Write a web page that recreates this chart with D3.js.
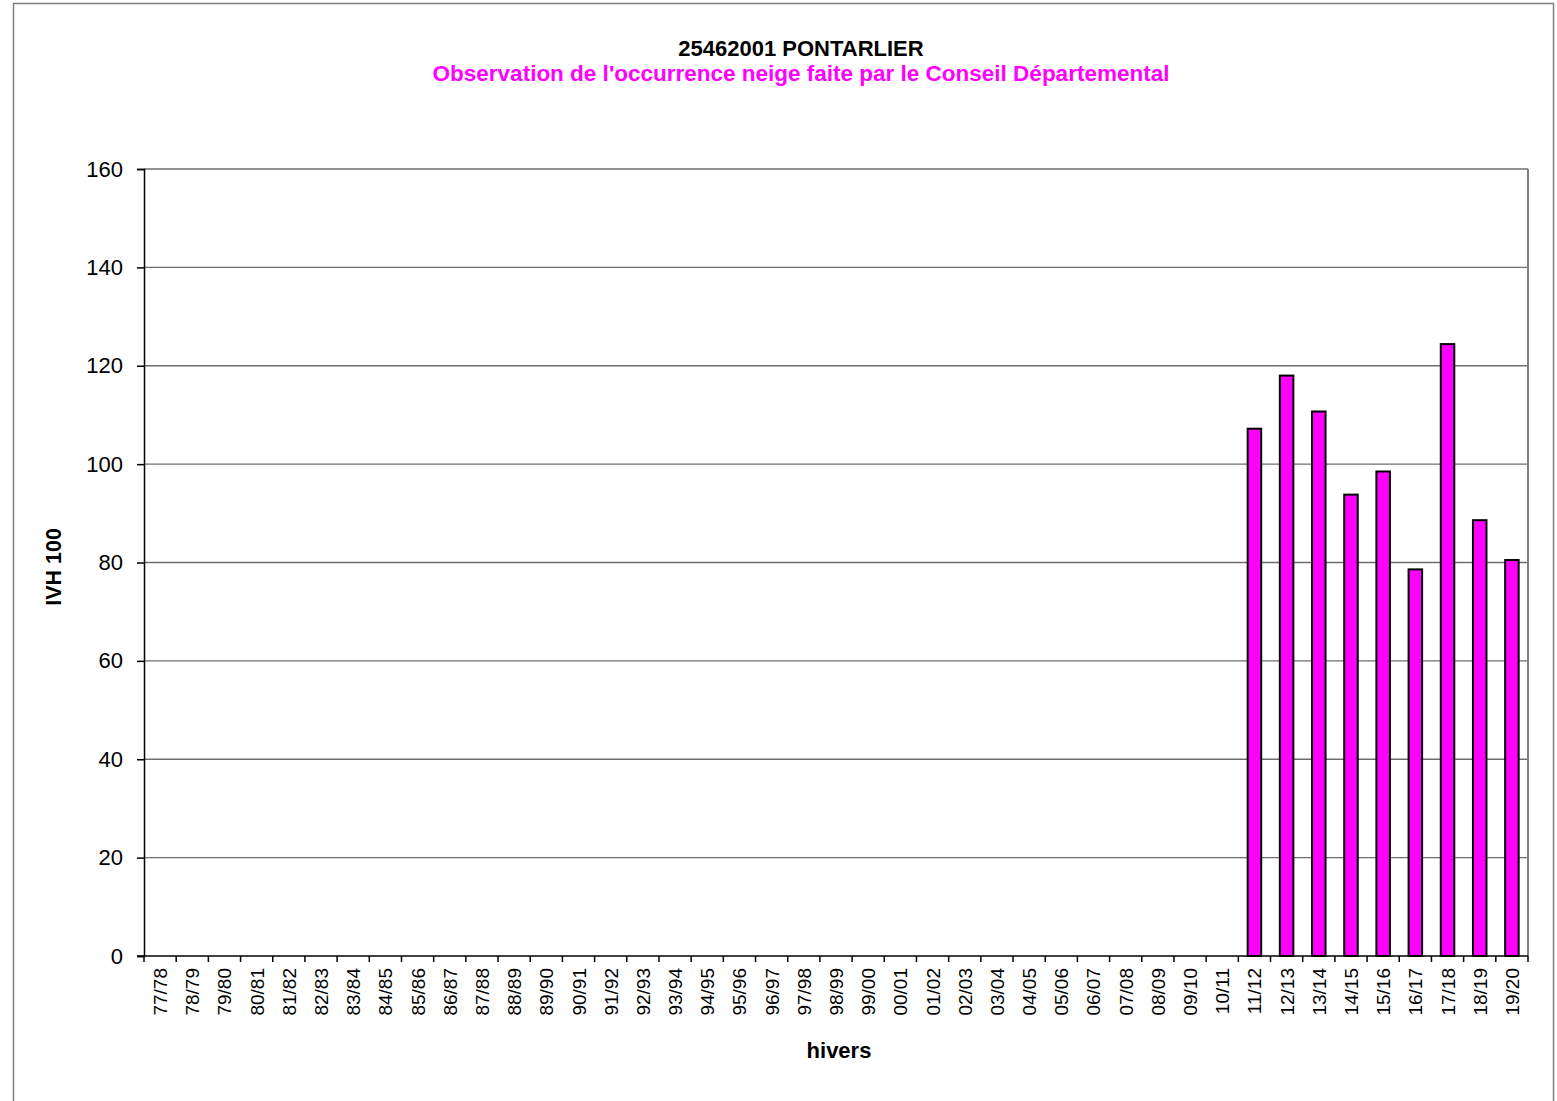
<!DOCTYPE html>
<html>
<head>
<meta charset="utf-8">
<script src="https://cdn.jsdelivr.net/npm/d3@7"></script>
<style>
  body { margin: 0; background: #fff; }
  svg text { font-family: "Liberation Sans", Arial, sans-serif; }
</style>
</head>
<body>
<div id="chart"></div>
<script>
// Winters (categories)
const winters = ["77/78","78/79","79/80","80/81","81/82","82/83","83/84","84/85","85/86","86/87",
  "87/88","88/89","89/90","90/91","91/92","92/93","93/94","94/95","95/96","96/97","97/98","98/99",
  "99/00","00/01","01/02","02/03","03/04","04/05","05/06","06/07","07/08","08/09","09/10","10/11",
  "11/12","12/13","13/14","14/15","15/16","16/17","17/18","18/19","19/20"];

// IVH 100 values (only observed winters)
const observedWinters = ["11/12","12/13","13/14","14/15","15/16","16/17","17/18","18/19","19/20"];
const ivhValues = [107.2, 118.0, 110.7, 93.8, 98.5, 78.6, 124.4, 88.6, 80.5];

const yTicks = [0, 20, 40, 60, 80, 100, 120, 140, 160];

const W = 1557, H = 1101;
const margin = {top: 169, right: 29, bottom: 145, left: 144};
const width = W - margin.left - margin.right;
const height = H - margin.top - margin.bottom;

const svg = d3.select("#chart").append("svg")
  .attr("width", W).attr("height", H);

// Outer chart frame
svg.append("rect")
  .attr("x", 13.5).attr("y", 3.5)
  .attr("width", 1540).attr("height", 1110)
  .attr("fill", "none").attr("stroke", "#808080").attr("stroke-width", 1.5);

const g = svg.append("g").attr("transform", `translate(${margin.left},${margin.top})`);

const x = d3.scaleBand().domain(winters).range([0, width]).paddingInner(0.58).paddingOuter(0.29);
const xEdge = d3.scaleLinear().domain([0, winters.length]).range([0, width]);
const y = d3.scaleLinear().domain([0, 160]).range([height, 0]);

// Gridlines
g.selectAll(".grid").data(yTicks.filter(d => d > 0))
  .enter().append("line")
  .attr("x1", 0).attr("x2", width)
  .attr("y1", d => y(d)).attr("y2", d => y(d))
  .attr("stroke", "#6e6e6e").attr("stroke-width", 1.3);

// Right border of the plot
g.append("line")
  .attr("x1", width).attr("x2", width).attr("y1", 0).attr("y2", height)
  .attr("stroke", "#808080").attr("stroke-width", 2);

// Bars
const data = observedWinters.map((w, i) => ({winter: w, value: ivhValues[i]}));
g.selectAll(".bar").data(data)
  .enter().append("rect")
  .attr("x", d => x(d.winter))
  .attr("width", x.bandwidth())
  .attr("y", d => y(d.value))
  .attr("height", d => y(0) - y(d.value))
  .attr("fill", "#ff00ff")
  .attr("stroke", "#000").attr("stroke-width", 2);

// Y axis
const yAxis = g.append("g")
  .call(d3.axisLeft(y).tickValues(yTicks).tickSize(7).tickPadding(14));
yAxis.selectAll("text").attr("font-size", 22).attr("fill", "#000");
yAxis.selectAll("line").attr("stroke", "#000").attr("stroke-width", 1.5);
yAxis.select(".domain").attr("stroke", "#000").attr("stroke-width", 1.5);

// X axis: ticks at category boundaries
const xAxisG = g.append("g").attr("transform", `translate(0,${height})`);
xAxisG.append("line")
  .attr("x1", -7).attr("x2", width).attr("y1", 0).attr("y2", 0)
  .attr("stroke", "#000").attr("stroke-width", 1.5);
xAxisG.selectAll(".tick").data(d3.range(winters.length + 1))
  .enter().append("line")
  .attr("x1", d => xEdge(d)).attr("x2", d => xEdge(d))
  .attr("y1", 0).attr("y2", 6)
  .attr("stroke", "#000").attr("stroke-width", 1.5);
xAxisG.selectAll(".lbl").data(winters)
  .enter().append("text")
  .attr("transform", d => `translate(${x(d) + x.bandwidth() / 2 + 7},12) rotate(-90)`)
  .attr("text-anchor", "end")
  .attr("font-size", 19)
  .attr("fill", "#000")
  .text(d => d);

// Axis titles
svg.append("text")
  .attr("x", 839).attr("y", 1058)
  .attr("text-anchor", "middle").attr("font-size", 22).attr("font-weight", "bold")
  .text("hivers");

svg.append("text")
  .attr("transform", "translate(61,567) rotate(-90)")
  .attr("text-anchor", "middle").attr("font-size", 21.5).attr("font-weight", "bold")
  .text("IVH 100");

// Titles
svg.append("text")
  .attr("x", 801).attr("y", 56)
  .attr("text-anchor", "middle").attr("font-size", 22).attr("font-weight", "bold")
  .text("25462001 PONTARLIER");

svg.append("text")
  .attr("x", 801).attr("y", 81)
  .attr("text-anchor", "middle").attr("font-size", 22.5).attr("font-weight", "bold")
  .attr("fill", "#ff00ff")
  .text("Observation de l'occurrence neige faite par le Conseil Départemental");
</script>
</body>
</html>
